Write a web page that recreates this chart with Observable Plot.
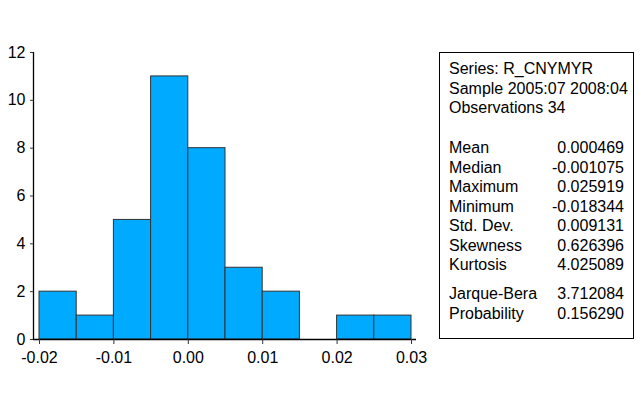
<!DOCTYPE html>
<html>
<head>
<meta charset="utf-8">
<script src="https://cdn.jsdelivr.net/npm/d3@7"></script>
<script src="https://cdn.jsdelivr.net/npm/@observablehq/plot@0.6"></script>
<style>
  html, body { margin: 0; padding: 0; background: #fff; }
  #wrap { position: relative; width: 640px; height: 405px; font-family: "Liberation Sans", Arial, sans-serif; }
  #stats { position: absolute; left: 439px; top: 52px; width: 193px; height: 285px;
           border: 1px solid #000; box-sizing: content-box; font-size: 16px; line-height: 19.5px; color: #000; }
  #stats .inner { padding: 6px 9px 0 9px; }
  #stats .row { display: flex; justify-content: space-between; white-space: nowrap; height: 19.5px; }
</style>
</head>
<body>
<div id="wrap"></div>
<script>
// Histogram bins (lower edge) and counts
const binStart = [-0.02, -0.015, -0.01, -0.005, 0.0, 0.005, 0.01, 0.015, 0.02, 0.025];
const binWidth = 0.005;
const counts = [2, 1, 5, 11, 8, 3, 2, 0, 1, 1];
const xTicks = [-0.02, -0.01, 0.00, 0.01, 0.02, 0.03];
const xTickLabels = ["-0.02", "-0.01", "0.00", "0.01", "0.02", "0.03"];
const yTicks = [0, 2, 4, 6, 8, 10, 12];

// Statistics panel
const headerLines = ["Series: R_CNYMYR", "Sample 2005:07 2008:04", "Observations 34"];
const statLabels = ["Mean", "Median", "Maximum", "Minimum", "Std. Dev.", "Skewness", "Kurtosis"];
const statValues = ["0.000469", "-0.001075", "0.025919", "-0.018344", "0.009131", "0.626396", "4.025089"];
const testLabels = ["Jarque-Bera", "Probability"];
const testValues = ["3.712084", "0.156290"];

const bins = binStart.map((s, i) => ({x1: s, x2: s + binWidth, count: counts[i]}));
const xDomain = [-0.020806, 0.030672];

const chart = Plot.plot({
  width: 640,
  height: 405,
  marginLeft: 33,
  marginRight: 224,
  marginTop: 52,
  marginBottom: 66,
  style: {fontFamily: "'Liberation Sans', Arial, sans-serif", fontSize: "16px", color: "#000", background: "#fff"},
  x: {domain: xDomain},
  y: {domain: [0, 12]},
  marks: [
    Plot.rectY(bins.filter(d => d.count > 0), {x1: "x1", x2: "x2", y: "count", fill: "#00aaff", stroke: "#333", strokeWidth: 1}),
    Plot.ruleY([0], {stroke: "#000", strokeWidth: 1.3}),
    Plot.ruleX([xDomain[0]], {stroke: "#000", strokeWidth: 1.3}),
    Plot.axisX({ticks: xTicks, tickFormat: (d, i) => xTickLabels[xTicks.indexOf(d)], tickSize: 5, tickPadding: 7, label: null, stroke: "#333", fontSize: 16}),
    Plot.axisY({ticks: yTicks, tickSize: 3, tickPadding: 5, label: null, stroke: "#333", fontSize: 16})
  ]
});
const wrap = document.getElementById("wrap");
wrap.appendChild(chart);

// Build stats box
const box = document.createElement("div");
box.id = "stats";
const inner = document.createElement("div");
inner.className = "inner";
function addRow(l, r) {
  const row = document.createElement("div");
  row.className = "row";
  const a = document.createElement("span"); a.textContent = l;
  const b = document.createElement("span"); b.textContent = r || "";
  row.appendChild(a); row.appendChild(b);
  inner.appendChild(row);
}
function addGap(h) {
  const g = document.createElement("div"); g.style.height = h + "px"; inner.appendChild(g);
}
headerLines.forEach(t => addRow(t, ""));
addGap(20.5);
statLabels.forEach((t, i) => addRow(t, statValues[i]));
addGap(9.5);
testLabels.forEach((t, i) => addRow(t, testValues[i]));
box.appendChild(inner);
wrap.appendChild(box);
</script>
</body>
</html>
